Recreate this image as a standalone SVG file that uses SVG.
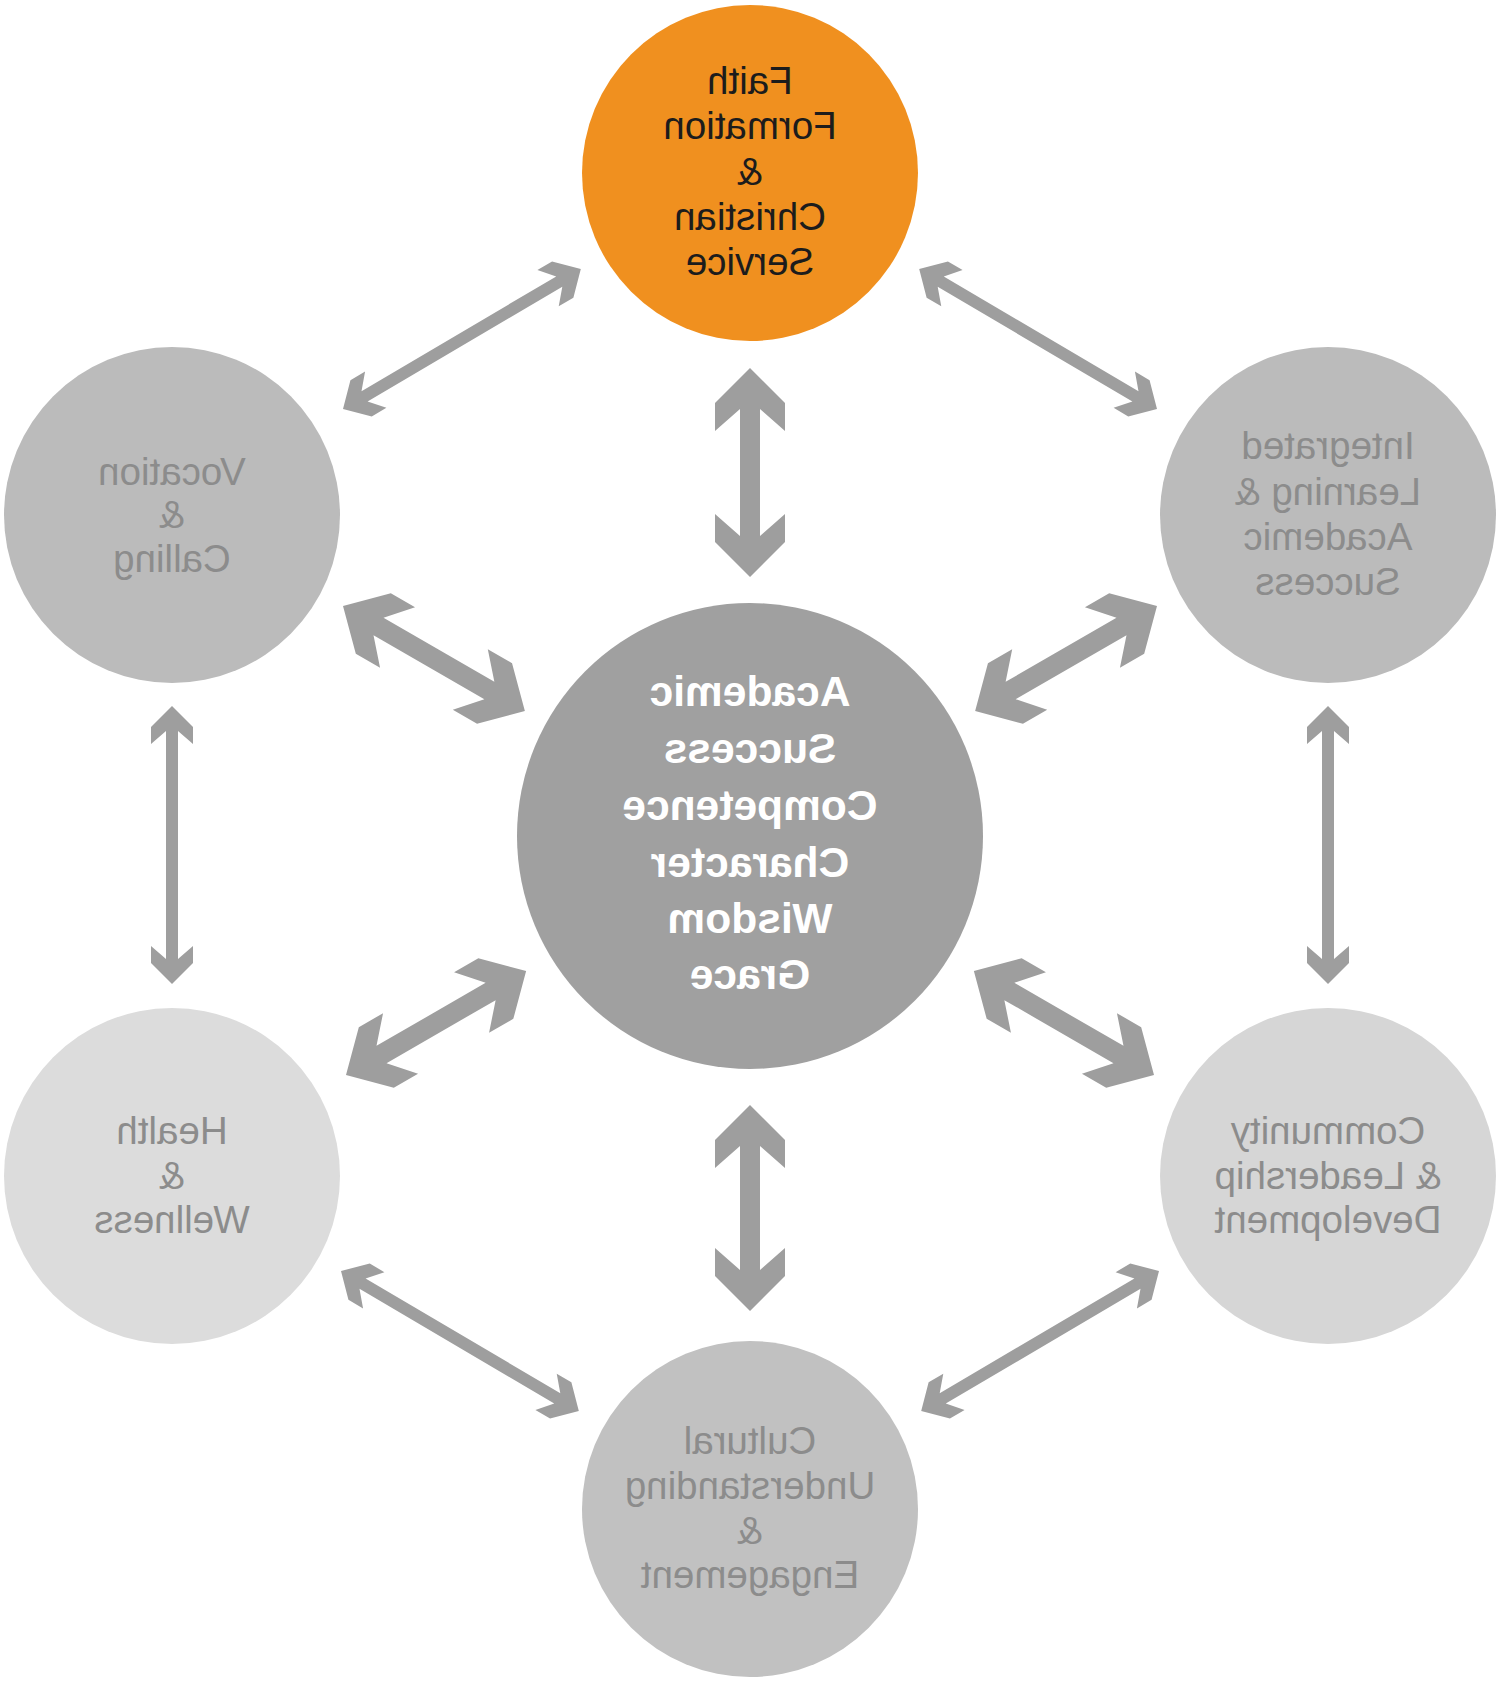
<svg xmlns="http://www.w3.org/2000/svg" width="1500" height="1682" viewBox="0 0 1500 1682">
<style>
.arr{fill:#9e9e9e}
.t{font-family:"Liberation Sans",Arial,sans-serif;font-size:38.5px;text-anchor:middle}
.g{fill:#8c8c8c}
.c{font-family:"Liberation Sans",Arial,sans-serif;font-size:42.5px;font-weight:bold;text-anchor:middle;fill:#ffffff}
</style>
<rect width="1500" height="1682" fill="#ffffff"/>
<g id="connectors">
<polygon class="arr" transform="translate(750,368) rotate(90)" points="0,0 35,-35 63,-35 41,-10 168,-10 146,-35 174,-35 209,0 174,35 146,35 168,10 41,10 63,35 35,35"/>
<polygon class="arr" transform="translate(750,1105) rotate(90)" points="0,0 35,-35 63,-35 41,-10 165,-10 143,-35 171,-35 206,0 171,35 143,35 165,10 41,10 63,35 35,35"/>
<polygon class="arr" transform="translate(343,606) rotate(30)" points="0,0 35,-35 63,-35 41,-10 169,-10 147,-35 175,-35 210,0 175,35 147,35 169,10 41,10 63,35 35,35"/>
<polygon class="arr" transform="translate(1157,606) rotate(150)" points="0,0 35,-35 63,-35 41,-10 169,-10 147,-35 175,-35 210,0 175,35 147,35 169,10 41,10 63,35 35,35"/>
<polygon class="arr" transform="translate(346,1075) rotate(-30)" points="0,0 35,-35 63,-35 41,-10 167,-10 145,-35 173,-35 208,0 173,35 145,35 167,10 41,10 63,35 35,35"/>
<polygon class="arr" transform="translate(1154,1075) rotate(-150)" points="0,0 35,-35 63,-35 41,-10 167,-10 145,-35 173,-35 208,0 173,35 145,35 167,10 41,10 63,35 35,35"/>
<polygon class="arr" transform="translate(343,409) rotate(-30.5)" points="0,0 21,-21 38,-21 25,-6 251,-6 238,-21 255,-21 276,0 255,21 238,21 251,6 25,6 38,21 21,21"/>
<polygon class="arr" transform="translate(1157,409) rotate(-149.5)" points="0,0 21,-21 38,-21 25,-6 251,-6 238,-21 255,-21 276,0 255,21 238,21 251,6 25,6 38,21 21,21"/>
<polygon class="arr" transform="translate(341,1271) rotate(30.5)" points="0,0 21,-21 38,-21 25,-6 251,-6 238,-21 255,-21 276,0 255,21 238,21 251,6 25,6 38,21 21,21"/>
<polygon class="arr" transform="translate(1159,1271) rotate(149.5)" points="0,0 21,-21 38,-21 25,-6 251,-6 238,-21 255,-21 276,0 255,21 238,21 251,6 25,6 38,21 21,21"/>
<polygon class="arr" transform="translate(172,706) rotate(90)" points="0,0 21,-21 38,-21 25,-6 253,-6 240,-21 257,-21 278,0 257,21 240,21 253,6 25,6 38,21 21,21"/>
<polygon class="arr" transform="translate(1328,706) rotate(90)" points="0,0 21,-21 38,-21 25,-6 253,-6 240,-21 257,-21 278,0 257,21 240,21 253,6 25,6 38,21 21,21"/>
</g>
<g id="node-faith">
<circle cx="750" cy="173" r="168" fill="#f0901f"/>
<g transform="translate(750,0) scale(-1,1)" class="t" fill="#1c1c1c">
<text x="0" y="94">Faith</text>
<text x="0" y="139">Formation</text>
<text x="0" y="185">&amp;</text>
<text x="0" y="230">Christian</text>
<text x="0" y="275">Service</text>
</g>
</g>
<g id="node-vocation">
<circle cx="172" cy="515" r="168" fill="#bbbbbb"/>
<g transform="translate(172,0) scale(-1,1)" class="t g">
<text x="0" y="485">Vocation</text>
<text x="0" y="528">&amp;</text>
<text x="0" y="572">Calling</text>
</g>
</g>
<g id="node-integrated">
<circle cx="1328" cy="515" r="168" fill="#bbbbbb"/>
<g transform="translate(1328,0) scale(-1,1)" class="t g">
<text x="0" y="459">Integrated</text>
<text x="0" y="505">Learning &amp;</text>
<text x="0" y="550">Academic</text>
<text x="0" y="595">Success</text>
</g>
</g>
<g id="node-center">
<circle cx="750" cy="836" r="233" fill="#a0a0a0"/>
<g transform="translate(750,0) scale(-1,1)" class="c">
<text x="0" y="706">Academic</text>
<text x="0" y="763">Success</text>
<text x="0" y="820">Competence</text>
<text x="0" y="877">Character</text>
<text x="0" y="933">Wisdom</text>
<text x="0" y="989">Grace</text>
</g>
</g>
<g id="node-health">
<circle cx="172" cy="1176" r="168" fill="#dcdcdc"/>
<g transform="translate(172,0) scale(-1,1)" class="t g">
<text x="0" y="1144">Health</text>
<text x="0" y="1189">&amp;</text>
<text x="0" y="1233">Wellness</text>
</g>
</g>
<g id="node-community">
<circle cx="1328" cy="1176" r="168" fill="#d6d6d6"/>
<g transform="translate(1328,0) scale(-1,1)" class="t g">
<text x="0" y="1144">Community</text>
<text x="0" y="1189">&amp; Leadership</text>
<text x="0" y="1233">Development</text>
</g>
</g>
<g id="node-cultural">
<circle cx="750" cy="1509" r="168" fill="#c1c1c1"/>
<g transform="translate(750,0) scale(-1,1)" class="t g">
<text x="0" y="1454">Cultural</text>
<text x="0" y="1499">Understanding</text>
<text x="0" y="1544">&amp;</text>
<text x="0" y="1588">Engagement</text>
</g>
</g>
</svg>
